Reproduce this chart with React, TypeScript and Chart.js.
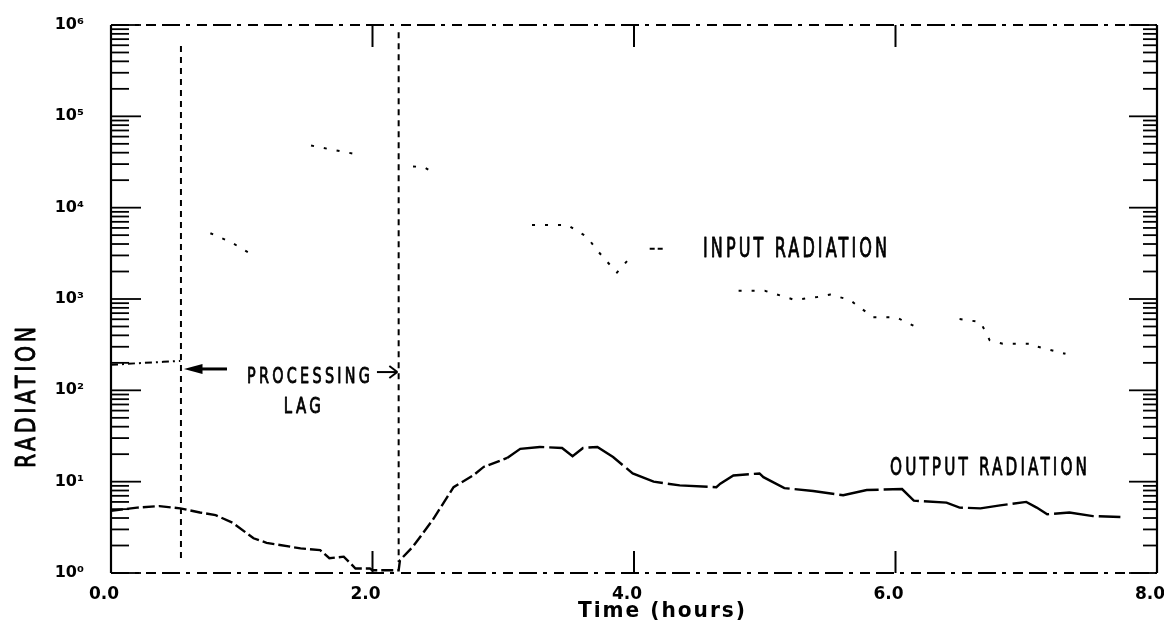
import React, { useEffect, useRef } from 'react';
import { Chart, registerables } from 'chart.js';

Chart.register(...registerables);

// ---- data ----
const inputHours = [0.0, 0.2, 0.4, 0.53, 0.6, 0.76, 0.92, 1.11, 1.3, 1.53, 1.6, 1.86, 2.1, 2.31, 2.39, 2.46, 2.8, 3.22, 3.49, 3.64, 3.72, 3.8, 3.87, 3.95, 4.4, 4.8, 5.0, 5.23, 5.4, 5.5, 5.65, 5.83, 6.01, 6.06, 6.15, 6.3, 6.49, 6.65, 6.72, 6.82, 7.05, 7.08, 7.3];
const inputValues: (number | null)[] = [190, 198, 205, 210, null, 5250, 4170, 2880, null, 47900, 45700, 38900, null, 28200, 28000, 24500, null, 6460, 6460, 4790, 3390, 2510, 1950, 2630, null, 1230, 1230, 977, 1050, 1120, 977, 631, 631, 575, 501, null, 603, 560, 355, 324, 324, 302, 251];

const outputHours = [0.0, 0.2, 0.37, 0.53, 0.68, 0.8, 0.93, 1.09, 1.19, 1.45, 1.6, 1.67, 1.78, 1.87, 1.98, 2.0, 2.2, 2.21, 2.31, 2.46, 2.62, 2.77, 2.85, 3.03, 3.13, 3.28, 3.45, 3.53, 3.61, 3.72, 3.84, 3.99, 4.15, 4.35, 4.63, 4.66, 4.76, 4.96, 4.99, 5.15, 5.37, 5.6, 5.78, 6.05, 6.14, 6.39, 6.49, 6.65, 6.8, 7.0, 7.08, 7.16, 7.33, 7.51, 7.72];
const outputValues = [4.8, 5.2, 5.4, 5.1, 4.6, 4.3, 3.55, 2.4, 2.14, 1.86, 1.78, 1.45, 1.51, 1.12, 1.12, 1.07, 1.07, 1.38, 1.95, 3.8, 8.7, 11.7, 14.5, 18.2, 22.9, 24, 23.4, 19, 23.4, 24, 18.6, 12.3, 10, 9.1, 8.7, 9.5, 11.7, 12.3, 11.2, 8.5, 7.9, 7.1, 8.1, 8.3, 6.2, 5.9, 5.2, 5.1, 5.5, 6.0, 5.2, 4.4, 4.6, 4.2, 4.1];

const xTickValues = [0, 2, 4, 6, 8];
const xTickLabels = ['0.0', '2.0', '4.0', '6.0', '8.0'];
const yTickValues = [1, 10, 100, 1000, 10000, 100000, 1000000];
const yTickLabels = ['10⁰', '10¹', '10²', '10³', '10⁴', '10⁵', '10⁶'];

const lagStartHours = 0.535;
const lagEndHours = 2.2;

const FONT = "'DejaVu Sans', sans-serif";

function fitText(ctx: CanvasRenderingContext2D, text: string, x: number, capCenterY: number, width: number, cap: number, weight = 'normal', spacing = 0, stroke = 0) {
  const size = cap / 0.73;
  ctx.font = `${weight} ${size}px ${FONT}`;
  const anyCtx = ctx as any;
  const prevSpacing = anyCtx.letterSpacing;
  if ('letterSpacing' in anyCtx) anyCtx.letterSpacing = `${spacing}px`;
  const w = ctx.measureText(text).width - spacing;
  ctx.save();
  ctx.translate(x, capCenterY + cap / 2);
  ctx.scale(width / w, 1);
  ctx.textAlign = 'left';
  ctx.textBaseline = 'alphabetic';
  ctx.fillText(text, 0, 0);
  if (stroke > 0) {
    ctx.setLineDash([]);
    ctx.lineWidth = stroke;
    ctx.lineJoin = 'round';
    ctx.strokeText(text, 0, 0);
  }
  ctx.restore();
  if ('letterSpacing' in anyCtx) anyCtx.letterSpacing = prevSpacing ?? '0px';
}

const decorPlugin = {
  id: 'decor',
  afterDraw(chart: any) {
    const ctx: CanvasRenderingContext2D = chart.ctx;
    const a = chart.chartArea;
    const xs = chart.scales.x;
    const ys = chart.scales.y;
    const px = (h: number) => xs.getPixelForValue(h);
    const py = (lg: number) => ys.getPixelForValue(Math.pow(10, lg));
    const line = (x1: number, y1: number, x2: number, y2: number) => {
      ctx.beginPath();
      ctx.moveTo(x1, y1);
      ctx.lineTo(x2, y2);
      ctx.stroke();
    };
    ctx.save();
    ctx.strokeStyle = '#000';
    ctx.fillStyle = '#000';
    ctx.lineCap = 'butt';

    // frame
    ctx.lineWidth = 2.2;
    ctx.setLineDash([]);
    line(a.left, a.top, a.left, a.bottom);
    line(a.right, a.top, a.right, a.bottom);
    ctx.setLineDash([18, 6, 4, 7, 10, 6]);
    line(a.left, a.top, a.right, a.top);
    line(a.left, a.bottom, a.right, a.bottom);
    ctx.setLineDash([]);

    // log ticks on left and right, inward
    ctx.lineWidth = 1.8;
    for (let e = 0; e <= 6; e++) {
      for (let m = 1; m < 10; m++) {
        if (e === 6 && m > 1) break;
        const y = ys.getPixelForValue(m * Math.pow(10, e));
        const major = m === 1;
        line(a.left, y, a.left + (major ? 30 : 18), y);
        line(a.right, y, a.right - (major ? 28 : 14), y);
      }
    }
    // x major ticks, inward top and bottom
    ctx.lineWidth = 2;
    [2, 4, 6].forEach((h) => {
      line(px(h), a.top, px(h), a.top + 22);
      line(px(h), a.bottom, px(h), a.bottom - 22);
    });

    // processing lag lines
    ctx.lineWidth = 2;
    ctx.setLineDash([6, 5]);
    line(px(lagStartHours), py(5.77), px(lagStartHours), py(0.12));
    line(px(lagEndHours), py(5.92), px(lagEndHours), py(0.12));

    // legend dash near INPUT RADIATION
    ctx.setLineDash([5, 3]);
    line(px(4.12), py(3.55), px(4.22), py(3.55));
    ctx.setLineDash([]);

    // left arrow
    ctx.lineWidth = 3;
    const ay = py(2.234);
    line(px(0.887), ay, px(0.66), ay);
    ctx.beginPath();
    ctx.moveTo(px(0.558), ay);
    ctx.lineTo(px(0.7), ay - 5);
    ctx.lineTo(px(0.7), ay + 5);
    ctx.closePath();
    ctx.fill();

    // right arrow
    ctx.lineWidth = 2;
    const ry = py(2.2);
    const rx2 = px(2.19);
    line(px(2.034), ry, rx2, ry);
    line(rx2 - 8, ry - 6, rx2, ry);
    line(rx2, ry, rx2 - 8, ry + 6);

    // annotations
    fitText(ctx, 'PROCESSING', px(1.04), py(2.169), 123, 16, 'normal', 5, 0.9);
    fitText(ctx, 'LAG', px(1.322), py(1.84), 37, 16, 'normal', 5, 0.9);
    fitText(ctx, 'INPUT RADIATION', px(4.528), py(3.56), 184, 19, 'normal', 5, 0.9);
    fitText(ctx, 'OUTPUT RADIATION', px(5.958), py(1.172), 197, 18, 'normal', 5, 0.9);

    // axis titles
    fitText(ctx, 'Time (hours)', 578, 609, 167, 15, 'bold', 2);
    ctx.save();
    ctx.translate(35, 468);
    ctx.rotate(-Math.PI / 2);
    fitText(ctx, 'RADIATION', 0, -10, 141, 20, 'normal', 5, 1);
    ctx.restore();

    ctx.restore();
  },
};

export default function App() {
  const ref = useRef<HTMLCanvasElement | null>(null);
  useEffect(() => {
    if (!ref.current) return;
    const inputData = inputHours.map((h, i) => ({ x: h, y: inputValues[i] }));
    const outputData = outputHours.map((h, i) => ({ x: h, y: outputValues[i] }));
    const chart = new Chart(ref.current, {
      type: 'line',
      data: {
        datasets: [
          {
            label: 'INPUT RADIATION',
            data: inputData as any,
            borderColor: '#000',
            borderWidth: 2,
            pointRadius: 0,
            spanGaps: false,
            fill: false,
            segment: {
              borderDash: (c: any) => (c.p0.parsed.x < 0.6 ? [7, 4, 2, 4] : [3, 10]),
            },
          },
          {
            label: 'OUTPUT RADIATION',
            data: outputData as any,
            borderColor: '#000',
            borderWidth: 2.4,
            pointRadius: 0,
            fill: false,
            segment: {
              borderDash: (c: any) => (c.p0.parsed.x < 3.0 ? [12, 4] : [40, 5]),
            },
          },
        ],
      },
      options: {
        responsive: false,
        animation: false,
        layout: { padding: { top: 25, right: 7, left: 0, bottom: 0 } },
        plugins: { legend: { display: false }, tooltip: { enabled: false } },
        scales: {
          x: {
            type: 'linear',
            min: 0,
            max: 8,
            grid: { display: false, drawTicks: false },
            border: { display: false },
            afterBuildTicks: (s: any) => {
              s.ticks = xTickValues.map((v) => ({ value: v }));
            },
            afterFit: (s: any) => {
              s.height = 54;
              s.paddingLeft = 0;
              s.paddingRight = 0;
            },
            ticks: {
              color: '#000',
              font: { family: FONT, size: 17, weight: 'bold' },
              padding: 11,
              labelOffset: -7,
              maxRotation: 0,
              autoSkip: false,
              callback: (v: any) => xTickLabels[xTickValues.indexOf(Number(v))] ?? '',
            },
          },
          y: {
            type: 'logarithmic',
            min: 1,
            max: 1000000,
            grid: { display: false, drawTicks: false },
            border: { display: false },
            afterBuildTicks: (s: any) => {
              s.ticks = yTickValues.map((v) => ({ value: v }));
            },
            afterFit: (s: any) => {
              s.width = 111;
              s.paddingTop = 0;
              s.paddingBottom = 0;
            },
            ticks: {
              color: '#000',
              font: { family: FONT, size: 16, weight: 'bold' },
              padding: 27,
              autoSkip: false,
              callback: (v: any) => yTickLabels[yTickValues.indexOf(Number(v))] ?? '',
            },
          },
        },
      },
      plugins: [decorPlugin],
    });
    return () => chart.destroy();
  }, []);
  return (
    <div style={{ position: 'absolute', left: 0, top: 0, width: 1164, height: 627, background: '#fff' }}>
      <canvas ref={ref} width={1164} height={627} />
    </div>
  );
}
